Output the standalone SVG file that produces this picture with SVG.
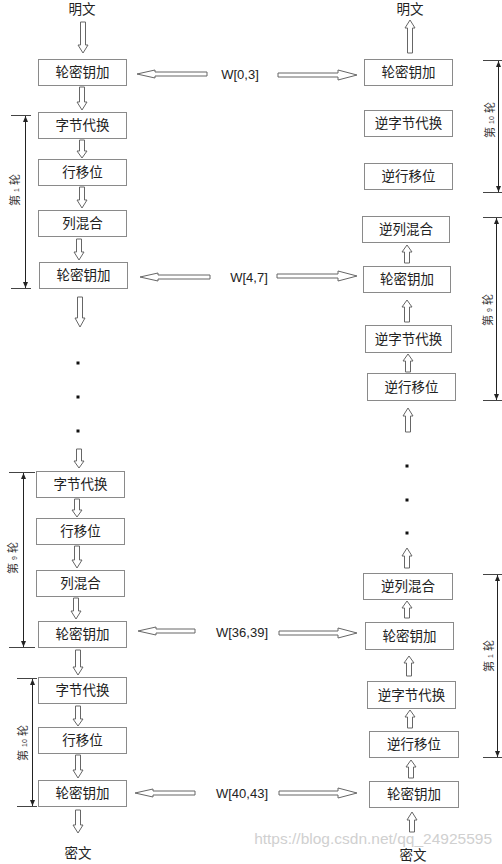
<svg xmlns="http://www.w3.org/2000/svg" width="502" height="864" viewBox="0 0 502 864">
<defs>
<style>
.box{fill:#fff;stroke:#8a8a8a;stroke-width:1}
.t{font-family:"Liberation Sans","Noto Sans CJK SC",sans-serif;font-size:13.5px;fill:#222;text-anchor:middle}
.w{font-family:"Liberation Sans","Noto Sans CJK SC",sans-serif;font-size:13px;fill:#222;text-anchor:middle}
.ar{fill:#fff;stroke:#666;stroke-width:1;stroke-linejoin:miter}
.br{stroke:#222;stroke-width:1;fill:none}
.tk{stroke:#444;stroke-width:1;fill:none}
.rl{font-family:"Liberation Sans","Noto Sans CJK SC",sans-serif;font-size:11px;fill:#333;text-anchor:middle}
.dot{fill:#111}
.wm{font-family:"Liberation Sans",sans-serif;font-size:15.5px;fill:#d0d0d0;text-anchor:end}
</style>
<marker id="ah" viewBox="0 0 6 8" refX="6" refY="4" markerWidth="6" markerHeight="8" orient="auto" markerUnits="userSpaceOnUse">
<path d="M0,1.5 L6,4 L0,6.5 Z" fill="#222"/>
</marker>
</defs>

<!-- Left column: encryption -->
<g id="l-in"><text class="t" x="82" y="14">明文</text></g>
<g id="l1"><rect class="box" x="38.5" y="59.5" width="88" height="26"/><text class="t" x="82.5" y="77">轮密钥加</text></g>
<g id="l2"><rect class="box" x="38.5" y="112.5" width="88" height="26"/><text class="t" x="82.5" y="130">字节代换</text></g>
<g id="l3"><rect class="box" x="38.5" y="159.5" width="88" height="26"/><text class="t" x="82.5" y="177">行移位</text></g>
<g id="l4"><rect class="box" x="38.5" y="210.5" width="88" height="26"/><text class="t" x="82.5" y="228">列混合</text></g>
<g id="l5"><rect class="box" x="39.5" y="262.5" width="88" height="26"/><text class="t" x="83.5" y="280">轮密钥加</text></g>
<g id="l6"><rect class="box" x="36.5" y="471.5" width="88" height="26"/><text class="t" x="80.5" y="489">字节代换</text></g>
<g id="l7"><rect class="box" x="36.5" y="518.5" width="88" height="26"/><text class="t" x="80.5" y="536">行移位</text></g>
<g id="l8"><rect class="box" x="36.5" y="570.5" width="88" height="26"/><text class="t" x="80.5" y="588">列混合</text></g>
<g id="l9"><rect class="box" x="38.5" y="621.5" width="88" height="26"/><text class="t" x="82.5" y="639">轮密钥加</text></g>
<g id="l10"><rect class="box" x="38.5" y="677.5" width="88" height="26"/><text class="t" x="82.5" y="695">字节代换</text></g>
<g id="l11"><rect class="box" x="38.5" y="727.5" width="88" height="26"/><text class="t" x="82.5" y="745">行移位</text></g>
<g id="l12"><rect class="box" x="38.5" y="780.5" width="88" height="26"/><text class="t" x="82.5" y="798">轮密钥加</text></g>
<g id="l-out"><text class="t" x="78" y="858">密文</text></g>

<!-- Right column: decryption -->
<g id="r-out"><text class="t" x="410" y="14">明文</text></g>
<g id="r1"><rect class="box" x="364.5" y="59.5" width="88" height="26"/><text class="t" x="408.5" y="77">轮密钥加</text></g>
<g id="r2"><rect class="box" x="364.5" y="110.5" width="88" height="26"/><text class="t" x="408.5" y="128">逆字节代换</text></g>
<g id="r3"><rect class="box" x="364.5" y="163.5" width="88" height="26"/><text class="t" x="408.5" y="181">逆行移位</text></g>
<g id="r4"><rect class="box" x="362.5" y="216.5" width="87" height="26"/><text class="t" x="406" y="234">逆列混合</text></g>
<g id="r5"><rect class="box" x="363.5" y="266.5" width="87" height="26"/><text class="t" x="407" y="284">轮密钥加</text></g>
<g id="r6"><rect class="box" x="365.5" y="325.5" width="86" height="27"/><text class="t" x="408.5" y="344">逆字节代换</text></g>
<g id="r7"><rect class="box" x="367.5" y="373.5" width="88" height="27"/><text class="t" x="411.5" y="392">逆行移位</text></g>
<g id="r8"><rect class="box" x="363.5" y="573.5" width="89" height="26"/><text class="t" x="408" y="591">逆列混合</text></g>
<g id="r9"><rect class="box" x="365.5" y="622.5" width="88" height="27"/><text class="t" x="409.5" y="641">轮密钥加</text></g>
<g id="r10"><rect class="box" x="367.5" y="681.5" width="88" height="27"/><text class="t" x="411.5" y="700">逆字节代换</text></g>
<g id="r11"><rect class="box" x="369.5" y="731.5" width="89" height="26"/><text class="t" x="414" y="749">逆行移位</text></g>
<g id="r12"><rect class="box" x="369.5" y="781.5" width="89" height="26"/><text class="t" x="414" y="799">轮密钥加</text></g>
<g id="r-in"><text class="t" x="413" y="860">密文</text></g>

<!-- Key labels -->
<g id="k0"><text class="w" x="240" y="78.5">W[0,3]</text></g>
<g id="k1"><text class="w" x="249" y="281.5">W[4,7]</text></g>
<g id="k9"><text class="w" x="242" y="637">W[36,39]</text></g>
<g id="k10"><text class="w" x="242" y="797.5">W[40,43]</text></g>

<!-- Connectors -->
<g id="connectors">
<!-- left down arrows -->
<path class="ar" d="M80.5,22 H85.5 V45 H88 L83,53 L78,45 H80.5 Z"/>
<path class="ar" d="M79.5,87 H84.5 V102 H87 L82,110 L77,102 H79.5 Z"/>
<path class="ar" d="M79.5,140 H84.5 V151 H87 L82,158 L77,151 H79.5 Z"/>
<path class="ar" d="M79.5,187 H84.5 V200 H87 L82,208 L77,200 H79.5 Z"/>
<path class="ar" d="M76.5,239 H81.5 V252 H84 L79,260 L74,252 H76.5 Z"/>
<path class="ar" d="M77.5,297 H82.5 V318 H85 L80,327 L75,318 H77.5 Z"/>
<path class="ar" d="M76.5,449 H81.5 V461 H84 L79,468 L74,461 H76.5 Z"/>
<path class="ar" d="M74.5,499 H79.5 V510 H82 L77,517 L72,510 H74.5 Z"/>
<path class="ar" d="M74.5,546 H79.5 V560 H82 L77,568 L72,560 H74.5 Z"/>
<path class="ar" d="M73.5,598 H78.5 V611 H81 L76,619 L71,611 H73.5 Z"/>
<path class="ar" d="M75.5,650 H80.5 V667 H83 L78,675 L73,667 H75.5 Z"/>
<path class="ar" d="M75.5,706 H80.5 V719 H83 L78,726 L73,719 H75.5 Z"/>
<path class="ar" d="M75.5,755 H80.5 V770 H83 L78,778 L73,770 H75.5 Z"/>
<path class="ar" d="M75.5,810 H80.5 V825 H83 L78,833 L73,825 H75.5 Z"/>
<!-- right up arrows -->
<path class="ar" d="M410,20 L415,28 H412.5 V53 H407.5 V28 H405 Z"/>
<path class="ar" d="M407,245 L412,252 H409.5 V263 H404.5 V252 H402 Z"/>
<path class="ar" d="M407,300 L412,307 H409.5 V322 H404.5 V307 H402 Z"/>
<path class="ar" d="M408,354 L413,361 H410.5 V372 H405.5 V361 H403 Z"/>
<path class="ar" d="M408,408 L413,416 H410.5 V432 H405.5 V416 H403 Z"/>
<path class="ar" d="M407,548 L412,556 H409.5 V568 H404.5 V556 H402 Z"/>
<path class="ar" d="M407,601 L412,608 H409.5 V618 H404.5 V608 H402 Z"/>
<path class="ar" d="M409,656 L414,663 H411.5 V676 H406.5 V663 H404 Z"/>
<path class="ar" d="M410,710 L415,717 H412.5 V728 H407.5 V717 H405 Z"/>
<path class="ar" d="M411,760 L416,767 H413.5 V778 H408.5 V767 H406 Z"/>
<path class="ar" d="M412,812 L417,820 H414.5 V832 H409.5 V820 H407 Z"/>
<!-- key arrows pointing left -->
<path class="ar" d="M137,74 L155,70 V72 H207 V76 H155 V78 Z"/>
<path class="ar" d="M140,277 L158,273 V275 H210 V279 H158 V281 Z"/>
<path class="ar" d="M138,631 L156,627 V629 H195 V633 H156 V635 Z"/>
<path class="ar" d="M135,793 L153,789 V791 H195 V795 H153 V797 Z"/>
<!-- key arrows pointing right -->
<path class="ar" d="M357,75 L338,70 V73 H278 V77 H338 V80 Z"/>
<path class="ar" d="M357,276 L338,271 V274 H277 V278 H338 V281 Z"/>
<path class="ar" d="M357,633 L338,628 V631 H279 V635 H338 V638 Z"/>
<path class="ar" d="M357,793 L338,788 V791 H279 V795 H338 V798 Z"/>
</g>

<!-- dots -->
<g id="dots-left">
<rect class="dot" x="76.5" y="361.5" width="3" height="3"/>
<rect class="dot" x="76.5" y="395.5" width="3" height="3"/>
<rect class="dot" x="76.5" y="429.5" width="3" height="3"/>
</g>
<g id="dots-right">
<rect class="dot" x="405.5" y="464.5" width="3" height="3"/>
<rect class="dot" x="405.5" y="498.5" width="3" height="3"/>
<rect class="dot" x="405.5" y="531.5" width="3" height="3"/>
</g>

<!-- round brackets -->
<g id="br-l1">
<line class="tk" x1="11" y1="115.5" x2="31" y2="115.5"/>
<line class="tk" x1="11" y1="288.5" x2="31" y2="288.5"/>
<line class="br" x1="25.5" y1="201" x2="25.5" y2="116" marker-end="url(#ah)"/>
<line class="br" x1="25.5" y1="201" x2="25.5" y2="288" marker-end="url(#ah)"/>
<text class="rl" transform="translate(19,190) rotate(-90)">第 <tspan font-size="7">1</tspan> 轮</text>
</g>
<g id="br-l9">
<line class="tk" x1="9" y1="472.5" x2="35" y2="472.5"/>
<line class="tk" x1="9" y1="647.5" x2="35" y2="647.5"/>
<line class="br" x1="23.5" y1="560" x2="23.5" y2="473" marker-end="url(#ah)"/>
<line class="br" x1="23.5" y1="560" x2="23.5" y2="647" marker-end="url(#ah)"/>
<text class="rl" transform="translate(17,558) rotate(-90)">第 <tspan font-size="7">9</tspan> 轮</text>
</g>
<g id="br-l10">
<line class="tk" x1="17" y1="678.5" x2="37" y2="678.5"/>
<line class="tk" x1="17" y1="806.5" x2="37" y2="806.5"/>
<line class="br" x1="32.5" y1="742" x2="32.5" y2="679" marker-end="url(#ah)"/>
<line class="br" x1="32.5" y1="742" x2="32.5" y2="806" marker-end="url(#ah)"/>
<text class="rl" transform="translate(27,743) rotate(-90)">第 <tspan font-size="7">10</tspan> 轮</text>
</g>
<g id="br-r10">
<line class="tk" x1="483" y1="60.5" x2="502" y2="60.5"/>
<line class="tk" x1="483" y1="192.5" x2="502" y2="192.5"/>
<line class="br" x1="498.5" y1="126" x2="498.5" y2="61" marker-end="url(#ah)"/>
<line class="br" x1="498.5" y1="126" x2="498.5" y2="192" marker-end="url(#ah)"/>
<text class="rl" transform="translate(494,120) rotate(-90)">第 <tspan font-size="7">10</tspan> 轮</text>
</g>
<g id="br-r9">
<line class="tk" x1="483" y1="217.5" x2="502" y2="217.5"/>
<line class="tk" x1="483" y1="400.5" x2="502" y2="400.5"/>
<line class="br" x1="496.5" y1="309" x2="496.5" y2="218" marker-end="url(#ah)"/>
<line class="br" x1="496.5" y1="309" x2="496.5" y2="400" marker-end="url(#ah)"/>
<text class="rl" transform="translate(492,310) rotate(-90)">第 <tspan font-size="7">9</tspan> 轮</text>
</g>
<g id="br-r1">
<line class="tk" x1="483" y1="574.5" x2="502" y2="574.5"/>
<line class="tk" x1="483" y1="757.5" x2="502" y2="757.5"/>
<line class="br" x1="497.5" y1="666" x2="497.5" y2="575" marker-end="url(#ah)"/>
<line class="br" x1="497.5" y1="666" x2="497.5" y2="757" marker-end="url(#ah)"/>
<text class="rl" transform="translate(493,656) rotate(-90)">第 <tspan font-size="7">1</tspan> 轮</text>
</g>

<text class="wm" x="492" y="844">https://blog.csdn.net/qq_24925595</text>
</svg>
